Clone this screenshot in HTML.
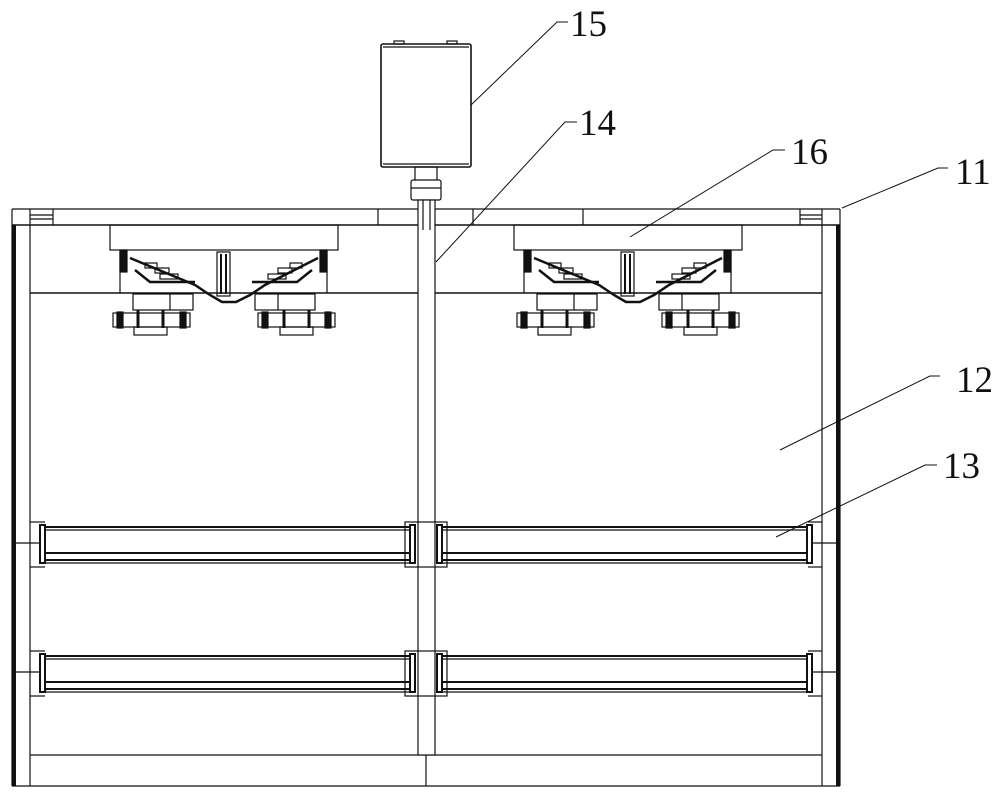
<!DOCTYPE html>
<html><head><meta charset="utf-8"><style>html,body{margin:0;padding:0;background:#fff}svg{display:block}</style></head><body>
<svg width="1000" height="797" viewBox="0 0 1000 797" xmlns="http://www.w3.org/2000/svg" fill="none" stroke="#111" stroke-width="1.2">
<defs>
<g id="unit">
  <rect x="110" y="225" width="228" height="25"/>
  <line x1="120" y1="250" x2="120" y2="293"/>
  <line x1="327" y1="250" x2="327" y2="293"/>
  <rect x="120" y="250" width="7" height="22" fill="#111"/>
  <rect x="320" y="250" width="7" height="22" fill="#111"/>
  <path d="M130 258 L195 285 L210 295 L222 302 L236 302 L250 295 L265 285 L318 258" stroke-width="2.5"/>
  <path d="M135 270 L150 282 L195 282 M312 270 L297 282 L252 282" stroke-width="2.5"/>
  <rect x="145" y="263" width="12" height="5"/><rect x="155" y="268" width="14" height="5"/><rect x="160" y="274" width="18" height="5"/>
  <rect x="290" y="263" width="12" height="5"/><rect x="278" y="268" width="14" height="5"/><rect x="268" y="274" width="18" height="5"/>
  <rect x="217" y="252" width="13" height="44"/><line x1="221" y1="254" x2="221" y2="294" stroke-width="2"/><line x1="226" y1="254" x2="226" y2="294" stroke-width="2"/>
  <rect x="133" y="294" width="60" height="16"/><line x1="170" y1="294" x2="170" y2="310"/>
  <rect x="255" y="294" width="60" height="16"/><line x1="278" y1="294" x2="278" y2="310"/>
  <rect x="113" y="313" width="77" height="14"/><rect x="117" y="312" width="6" height="16" fill="#111"/><rect x="180" y="312" width="6" height="16" fill="#111"/>
  <rect x="258" y="313" width="77" height="14"/><rect x="262" y="312" width="6" height="16" fill="#111"/><rect x="325" y="312" width="6" height="16" fill="#111"/>
  <rect x="134" y="327" width="33" height="8"/><rect x="280" y="327" width="33" height="8"/>
  <line x1="138" y1="310" x2="138" y2="328" stroke-width="3"/><line x1="163" y1="310" x2="163" y2="328" stroke-width="3"/>
  <line x1="284" y1="310" x2="284" y2="328" stroke-width="3"/><line x1="309" y1="310" x2="309" y2="328" stroke-width="3"/>
</g>
<g id="rail">
  <rect x="0" y="0" width="375" height="44" stroke="none"/>
  <line x1="2" y1="5" x2="373" y2="5" stroke-width="2"/>
  <line x1="2" y1="8" x2="373" y2="8"/>
  <line x1="4" y1="31" x2="371" y2="31" stroke-width="2"/>
  <line x1="4" y1="38" x2="371" y2="38" stroke-width="2"/>
  <line x1="4" y1="41" x2="371" y2="41"/>
  <rect x="0" y="3" width="5" height="38" stroke-width="2"/>
  <rect x="370" y="3" width="5" height="38" stroke-width="2"/>
</g>
</defs>
<rect x="12" y="225" width="4" height="561" fill="#111" stroke="none"/>
<rect x="836" y="225" width="4" height="561" fill="#111" stroke="none"/>
<line x1="12" y1="209" x2="840" y2="209"/>
<line x1="12" y1="225" x2="840" y2="225" stroke-width="1.6"/>
<line x1="12" y1="209" x2="12" y2="786"/>
<line x1="840" y1="209" x2="840" y2="786"/>
<line x1="30" y1="225" x2="30" y2="786"/>
<line x1="822" y1="225" x2="822" y2="786"/>
<line x1="12" y1="786" x2="840" y2="786"/>
<line x1="30" y1="755" x2="822" y2="755"/>
<line x1="426" y1="755" x2="426" y2="786"/>
<line x1="30" y1="293" x2="822" y2="293" stroke-width="1.6"/>
<line x1="30" y1="209" x2="30" y2="225"/><line x1="53" y1="209" x2="53" y2="225"/>
<line x1="30" y1="215" x2="53" y2="215"/><line x1="30" y1="219" x2="53" y2="219"/>
<line x1="800" y1="209" x2="800" y2="225"/><line x1="822" y1="209" x2="822" y2="225"/>
<line x1="800" y1="215" x2="822" y2="215"/><line x1="800" y1="219" x2="822" y2="219"/>
<line x1="378" y1="209" x2="378" y2="225"/><line x1="473" y1="209" x2="473" y2="225"/><line x1="583" y1="209" x2="583" y2="225"/>
<use href="#unit"/>
<use href="#unit" transform="translate(404,0)"/>
<rect x="415" y="167" width="22" height="14" fill="#fff"/>
<rect x="411" y="180" width="30" height="20" fill="#fff" rx="2"/>
<line x1="411" y1="188" x2="441" y2="188"/>
<rect x="418" y="200" width="17" height="555" fill="#fff"/>
<line x1="423" y1="200" x2="423" y2="230"/><line x1="430" y1="200" x2="430" y2="230"/>
<rect x="381" y="44" width="90" height="123" rx="2" stroke-width="1.6"/>
<line x1="383" y1="47" x2="469" y2="47"/><line x1="383" y1="164" x2="469" y2="164"/>
<rect x="394" y="41" width="10" height="3"/><rect x="447" y="41" width="10" height="3"/>
<g fill="#fff">
<use href="#rail" transform="translate(40,522)"/>
<use href="#rail" transform="translate(437,522)"/>
<use href="#rail" transform="translate(40,651)"/>
<use href="#rail" transform="translate(437,651)"/>
</g>
<line x1="30" y1="522" x2="45" y2="522"/><line x1="30" y1="567" x2="45" y2="567"/><line x1="16" y1="543" x2="40" y2="543"/>
<line x1="30" y1="651" x2="45" y2="651"/><line x1="30" y1="696" x2="45" y2="696"/><line x1="16" y1="672" x2="40" y2="672"/>
<line x1="808" y1="522" x2="822" y2="522"/><line x1="808" y1="567" x2="822" y2="567"/><line x1="812" y1="543" x2="836" y2="543"/>
<line x1="808" y1="651" x2="822" y2="651"/><line x1="808" y1="696" x2="822" y2="696"/><line x1="812" y1="672" x2="836" y2="672"/>
<rect x="405" y="522" width="42" height="45" fill="none"/>
<rect x="405" y="651" width="42" height="45" fill="none"/>
<g stroke-width="1">
<polyline points="471,105 557,22 568,22"/>
<polyline points="436,262 565,122 577,122"/>
<polyline points="630,237 773,150 785,150"/>
<polyline points="842,208 938,168 948,168"/>
<polyline points="780,450 930,376 940,376"/>
<polyline points="776,537 925,465 937,465"/>
</g>
<g font-family="Liberation Serif, serif" font-size="37" fill="#111" stroke="none">
<text x="570" y="36">15</text>
<text x="579" y="135">14</text>
<text x="791" y="164">16</text>
<text x="955" y="184">11</text>
<text x="956" y="392">12</text>
<text x="943" y="478">13</text>
</g>
</svg>
</body></html>
